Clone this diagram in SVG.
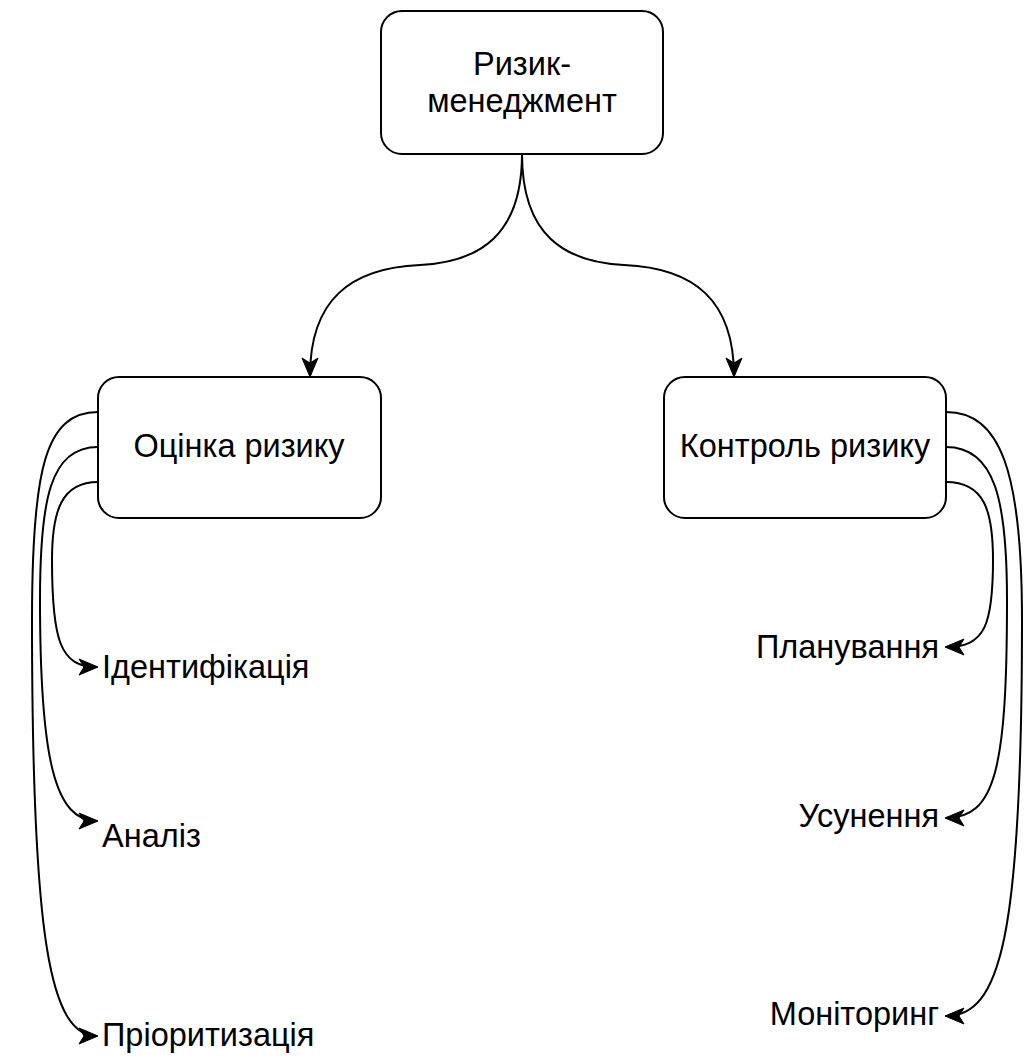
<svg xmlns="http://www.w3.org/2000/svg" width="1025" height="1057" viewBox="0 0 1025 1057">
<style>
.box{fill:#fff;stroke:#000;stroke-width:2}
.t{font-family:"Liberation Sans",Arial,sans-serif;font-size:32.5px;fill:#000}
.c{fill:none;stroke:#000;stroke-width:2}
</style>
<defs>
<marker id="arr" viewBox="-1 -1 21 18" markerWidth="21" markerHeight="18" refX="18" refY="8" orient="auto" markerUnits="userSpaceOnUse">
<path d="M0,0 L19,8 L0,16 L5,8 Z" fill="#000" stroke="#000" stroke-width="1" stroke-linejoin="miter"/>
</marker>
</defs>
<rect width="1025" height="1057" fill="#fff"/>
<g id="connectors">
<path class="c" marker-end="url(#arr)" d="M522,154 C522,235 480,262 420,265 C350,268 310,300 310,376"/>
<path class="c" marker-end="url(#arr)" d="M522,154 C522,235 564,262 624,265 C694,268 734,300 734,376"/>
<path class="c" marker-end="url(#arr)" d="M98,482 C62,482 52,510 52,560 C52,640 60,667 97,667"/>
<path class="c" marker-end="url(#arr)" d="M98,447 C50,447 40,500 40,600 C40,760 55,821 97,821"/>
<path class="c" marker-end="url(#arr)" d="M98,412 C45,412 32,470 32,620 C32,940 50,1036 97,1036"/>
<path class="c" marker-end="url(#arr)" d="M946,482 C984,482 993,510 993,560 C993,625 985,647 946,647"/>
<path class="c" marker-end="url(#arr)" d="M946,447 C995,447 1007,500 1007,600 C1007,770 995,818 946,818"/>
<path class="c" marker-end="url(#arr)" d="M946,412 C1000,412 1022,470 1022,620 C1022,940 1000,1016 946,1016"/>
</g>
<g id="n-risk-mgmt">
<rect class="box" x="381" y="11" width="282" height="143" rx="21"/>
<text class="t" x="522" y="75" text-anchor="middle">Ризик-</text>
<text class="t" x="522" y="112" text-anchor="middle">менеджмент</text>
</g>
<g id="n-assessment">
<rect class="box" x="98" y="377" width="283" height="141" rx="21"/>
<text class="t" x="239" y="457" text-anchor="middle">Оцінка ризику</text>
</g>
<g id="n-control">
<rect class="box" x="664" y="377" width="282" height="141" rx="21"/>
<text class="t" x="805" y="457" text-anchor="middle">Контроль ризику</text>
</g>
<g id="l-ident"><text class="t" x="102" y="678">Ідентифікація</text></g>
<g id="l-analysis"><text class="t" x="102" y="847">Аналіз</text></g>
<g id="l-prior"><text class="t" x="102" y="1046">Пріоритизація</text></g>
<g id="l-plan"><text class="t" x="939" y="658" text-anchor="end">Планування</text></g>
<g id="l-elim"><text class="t" x="939" y="827" text-anchor="end">Усунення</text></g>
<g id="l-monitor"><text class="t" x="939" y="1025" text-anchor="end">Моніторинг</text></g>
</svg>
